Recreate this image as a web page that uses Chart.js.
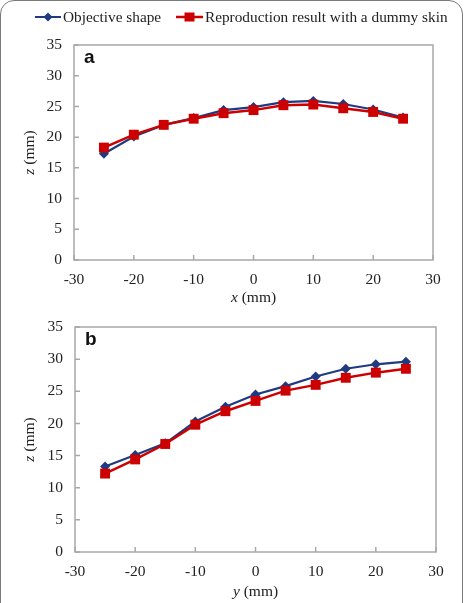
<!DOCTYPE html>
<html>
<head>
<meta charset="utf-8">
<script src="https://cdn.jsdelivr.net/npm/chart.js@4/dist/chart.umd.min.js"></script>
<style>
  html, body { margin: 0; padding: 0; background: #fff; }
  #page { position: relative; width: 467px; height: 603px; overflow: hidden; background: #fff; }
  #frame { position: absolute; left: 0; top: 0; width: 463px; height: 640px; border: 1.5px solid #7a7a7a; border-radius: 14px; box-sizing: border-box; }
  #legend { position: absolute; left: 35px; top: 8px; font: 15.3px "Liberation Serif", "Times New Roman", serif; color: #222; white-space: nowrap; }
  #legend span.item { display: inline-flex; align-items: center; margin-right: 11px; }
  #legend svg { margin-right: 2px; }
  .box { position: absolute; left: 0; width: 467px; }
  #boxA { top: 0; height: 312px; }
  #boxB { top: 300px; height: 303px; }
</style>
</head>
<body>
<div id="page">
  <div id="frame"></div>
  <div class="box" id="boxA"><canvas id="chartA" width="467" height="312"></canvas></div>
  <div class="box" id="boxB"><canvas id="chartB" width="467" height="303"></canvas></div>
  <div id="legend">
    <span class="item"><svg width="26" height="12"><line x1="0" y1="6" x2="26" y2="6" stroke="#1f3a80" stroke-width="2"/><polygon points="13,1.5 17.5,6 13,10.5 8.5,6" fill="#1f3a80"/></svg>Objective shape</span>
    <span class="item"><svg width="27" height="12"><line x1="0" y1="6" x2="27" y2="6" stroke="#cc0000" stroke-width="2.5"/><rect x="8.5" y="1.5" width="10" height="9" fill="#cc0000"/></svg>Reproduction result with a dummy skin</span>
  </div>
</div>
<script>
// data
const positions = [-25, -20, -15, -10, -5, 0, 5, 10, 15, 20, 25];
const objectiveA = [17.3, 20.1, 22.0, 23.1, 24.4, 24.9, 25.7, 25.9, 25.4, 24.5, 23.2];
const reproA     = [18.3, 20.4, 22.0, 23.0, 23.9, 24.4, 25.2, 25.3, 24.7, 24.1, 23.0];
const objectiveB = [13.3, 15.1, 16.9, 20.3, 22.6, 24.5, 25.8, 27.3, 28.5, 29.2, 29.6];
const reproB     = [12.2, 14.4, 16.8, 19.8, 21.9, 23.5, 25.1, 26.0, 27.1, 27.9, 28.5];
const xTicks = [-30, -20, -10, 0, 10, 20, 30];
const yTicks = [0, 5, 10, 15, 20, 25, 30, 35];

const BLUE = "#1f3a80";
const RED = "#cc0000";
const FRAME = "#a8a8a8";
const SERIF = '"Liberation Serif", "Times New Roman", serif';
const FS = 15.5;

function pts(ys) {
  return positions.map((x, i) => ({ x: x, y: ys[i] }));
}

// box round the plot + inward tick marks + panel letter + axis titles
const decor = {
  id: "decor",
  afterDraw(chart, args, opts) {
    const { ctx, chartArea: a, scales } = chart;
    ctx.save();
    ctx.strokeStyle = FRAME;
    ctx.lineWidth = 1.5;
    ctx.strokeRect(a.left, a.top, a.right - a.left, a.bottom - a.top);
    ctx.beginPath();
    scales.x.ticks.forEach(t => {
      const px = scales.x.getPixelForValue(t.value);
      ctx.moveTo(px, a.bottom);
      ctx.lineTo(px, a.bottom - 5);
    });
    scales.y.ticks.forEach(t => {
      const py = scales.y.getPixelForValue(t.value);
      ctx.moveTo(a.left, py);
      ctx.lineTo(a.left + 5, py);
    });
    ctx.stroke();

    // panel letter
    ctx.fillStyle = "#111";
    ctx.font = 'bold 19px "Liberation Sans", Arial, sans-serif';
    ctx.textBaseline = "alphabetic";
    ctx.textAlign = "left";
    ctx.fillText(opts.letter, a.left + 10, a.top + 18);

    // x title: italic variable + (mm)
    ctx.fillStyle = "#222";
    const cx = (a.left + a.right) / 2;
    const ty = a.bottom + opts.titleGap;
    const rest = " (mm)";
    ctx.font = "italic " + FS + "px " + SERIF;
    const w1 = ctx.measureText(opts.xVar).width;
    ctx.font = FS + "px " + SERIF;
    const w2 = ctx.measureText(rest).width;
    let sx = cx - (w1 + w2) / 2;
    ctx.textBaseline = "middle";
    ctx.font = "italic " + FS + "px " + SERIF;
    ctx.fillText(opts.xVar, sx, ty);
    ctx.font = FS + "px " + SERIF;
    ctx.fillText(rest, sx + w1, ty);

    // y title rotated
    ctx.translate(30, (a.top + a.bottom) / 2);
    ctx.rotate(-Math.PI / 2);
    ctx.font = "italic " + FS + "px " + SERIF;
    const z1 = ctx.measureText("z").width;
    ctx.font = FS + "px " + SERIF;
    const z2 = ctx.measureText(rest).width;
    sx = -(z1 + z2) / 2;
    ctx.font = "italic " + FS + "px " + SERIF;
    ctx.fillText("z", sx, 0);
    ctx.font = FS + "px " + SERIF;
    ctx.fillText(rest, sx + z1, 0);
    ctx.restore();
  }
};

function makeChart(id, objective, repro, layout) {
  return new Chart(document.getElementById(id), {
    type: "line",
    data: {
      datasets: [
        {
          label: "Objective shape",
          data: pts(objective),
          borderColor: BLUE,
          backgroundColor: BLUE,
          borderWidth: 2.2,
          pointStyle: "rectRot",
          pointRadius: 5,
          pointBorderWidth: 0,
          order: 1
        },
        {
          label: "Reproduction result with a dummy skin",
          data: pts(repro),
          borderColor: RED,
          backgroundColor: RED,
          borderWidth: 2.5,
          pointStyle: "rect",
          pointRadius: 7,
          pointBorderWidth: 0,
          order: 0
        }
      ]
    },
    options: {
      responsive: false,
      animation: false,
      layout: { padding: layout.padding },
      plugins: {
        legend: { display: false },
        tooltip: { enabled: false },
        decor: { letter: layout.letter, xVar: layout.xVar, titleGap: layout.titleGap }
      },
      scales: {
        x: {
          type: "linear",
          min: -30, max: 30,
          afterBuildTicks: s => { s.ticks = xTicks.map(v => ({ value: v })); },
          afterFit: s => { s.height = layout.xHeight; },
          grid: { display: false, drawTicks: false },
          border: { display: false },
          ticks: { color: "#222", padding: 11, maxRotation: 0, font: { family: SERIF, size: FS } }
        },
        y: {
          min: 0, max: 35,
          afterBuildTicks: s => { s.ticks = yTicks.map(v => ({ value: v })); },
          afterFit: s => { s.width = layout.yWidth; },
          grid: { display: false, drawTicks: false },
          border: { display: false },
          ticks: { color: "#222", padding: 12, font: { family: SERIF, size: FS } }
        }
      }
    },
    plugins: [decor]
  });
}

makeChart("chartA", objectiveA, reproA, {
  padding: { left: 0, right: 34, top: 45, bottom: 0 },
  xHeight: 52, yWidth: 74, letter: "a", xVar: "x", titleGap: 38
});
makeChart("chartB", objectiveB, reproB, {
  padding: { left: 0, right: 31, top: 27, bottom: 0 },
  xHeight: 51, yWidth: 75, letter: "b", xVar: "y", titleGap: 40
});
</script>
</body>
</html>
